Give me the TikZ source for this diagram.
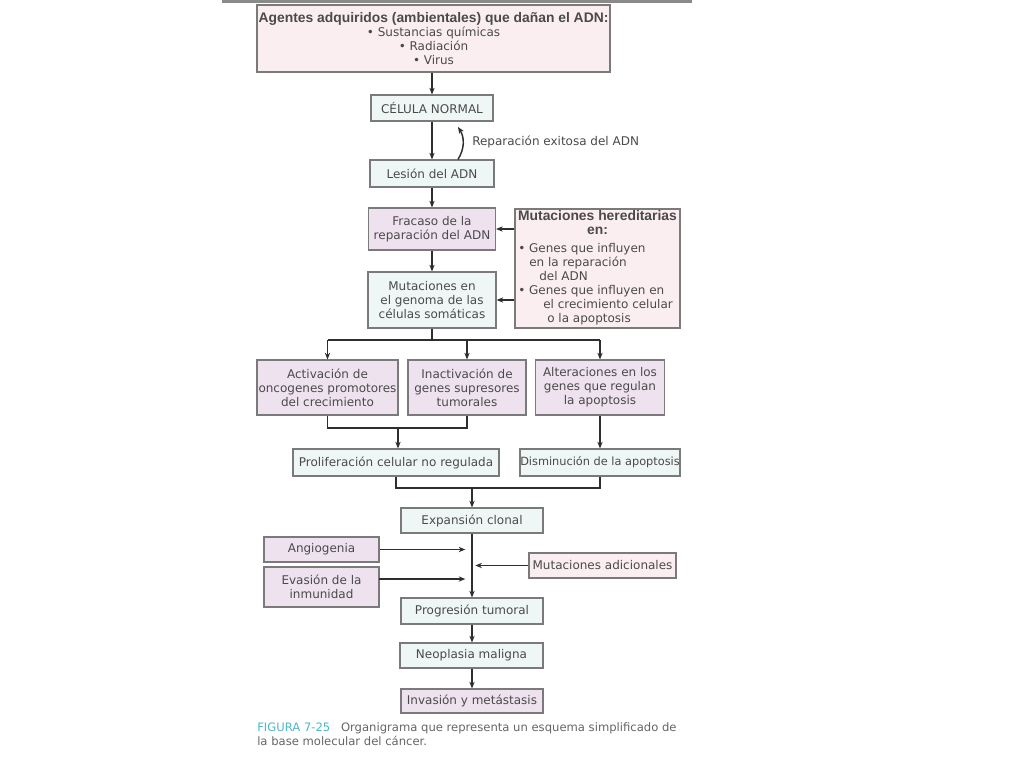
\documentclass[tikz,border=0pt]{standalone}
\usepackage{fontspec}
\setmainfont{DejaVu Sans}
\newfontfamily\hd{Liberation Sans}
\usetikzlibrary{arrows.meta}
\definecolor{pinkf}{HTML}{FBEEF0}
\definecolor{purpf}{HTML}{EFE2EF}
\definecolor{bluef}{HTML}{EFF7F6}
\definecolor{bordc}{HTML}{7A7A7A}
\definecolor{txtc}{HTML}{4A4A4A}
\definecolor{linec}{HTML}{2E2E2E}
\definecolor{capc}{HTML}{4DB6C8}
\definecolor{topc}{HTML}{8A8A8A}
\begin{document}
\begin{tikzpicture}[x=0.75pt,y=-0.75pt,
  bx/.style={draw=bordc,line width=0.9pt,inner sep=0pt,align=center,text=txtc,font=\fontsize{9}{10.5}\selectfont},
  sz/.style 2 args={minimum width={#1*0.75pt},minimum height={#2*0.75pt}},
  pk/.style={bx,fill=pinkf},
  pu/.style={bx,fill=purpf},
  bl/.style={bx,fill=bluef},
  lbl/.style={inner sep=0pt,text=txtc,font=\fontsize{9}{10.5}\selectfont},
  arr/.style={draw=linec,line width=1.1pt,-{Stealth[length=5pt,width=4pt]}},
  ln/.style={draw=linec,line width=1.1pt},
]
\useasboundingbox[fill=white] (0,0) rectangle (1024,768);
\fill[topc] (222,0) rectangle (692,3);

% boxes
\node[pk,sz={353}{67}] (agentes) at (433.5,38.5)
  {{\hd\bfseries\fontsize{10.4}{11}\selectfont Agentes adquiridos (ambientales) que dañan el ADN:}\\
   • Sustancias químicas\\ • Radiación\\ • Virus};
\node[bl,sz={122}{26}] (normal) at (432,108) {CÉLULA NORMAL};
\node[bl,sz={124}{27}] (lesion) at (432,173.5) {Lesión del ADN};
\node[pu,sz={127}{42}] (fracaso) at (432,229) {Fracaso de la\\reparación del ADN};
\node[pk,sz={165}{119}] (hered) at (597.5,268.5) {};
\node[lbl,font=\hd\bfseries\fontsize{10.4}{10.5}\selectfont,align=center,anchor=north] (heredt) at (597.5,210) {Mutaciones hereditarias\\en:};
\node[lbl,align=left,anchor=north west] (heredb) at (518,243)
  {• Genes que influyen\\
   \hspace*{8.25pt}en la reparación\\
   \hspace*{15.75pt}del ADN\\
   • Genes que influyen en\\
   \hspace*{18.75pt}el crecimiento celular\\
   \hspace*{21.75pt}o la apoptosis};
\node[bl,sz={128}{56}] (mutg) at (432,300) {Mutaciones en\\el genoma de las\\células somáticas};

\node[pu,sz={141}{55}] (act) at (327.5,387.5) {Activación de\\oncogenes promotores\\del crecimiento};
\node[pu,sz={118}{55}] (inac) at (467,387.5) {Inactivación de\\genes supresores\\tumorales};
\node[pu,sz={129}{55}] (alt) at (600,387.5) {Alteraciones en los\\genes que regulan\\la apoptosis};

\node[bl,sz={206}{27}] (prol) at (396,462.5) {Proliferación celular no regulada};
\node[bl,sz={160}{27},font=\fontsize{8.5}{10.5}\selectfont] (dism) at (600,462.5) {Disminución de la apoptosis};

\node[bl,sz={142}{25}] (exp) at (472,520.5) {Expansión clonal};
\node[pu,sz={115}{25}] (ang) at (321.5,549.5) {Angiogenia};
\node[pu,sz={115}{40}] (eva) at (321.5,587) {Evasión de la\\inmunidad};
\node[pk,sz={147}{25}] (madic) at (602.5,565.5) {Mutaciones adicionales};
\node[bl,sz={142}{26}] (prog) at (472,611) {Progresión tumoral};
\node[bl,sz={143}{25}] (neo) at (471.5,655.5) {Neoplasia maligna};
\node[pu,sz={142}{24}] (inv) at (472,701) {Invasión y metástasis};

% connectors
\draw[arr] (agentes.south -| normal) -- (normal);
\draw[arr] (normal) -- (lesion);
\draw[arr] ([xshift=19.5pt]lesion.north) .. controls +(5pt,8pt) and +(5pt,-8pt) .. ([xshift=19.5pt,yshift=-4pt]normal.south);
\node[lbl,anchor=west] (rep) at (472,142) {Reparación exitosa del ADN};
\draw[arr] (lesion) -- (fracaso);
\draw[arr] (fracaso) -- (mutg);
\draw[arr] (hered.west |- fracaso) -- (fracaso);
\draw[arr] (hered.west |- mutg) -- (mutg);

\coordinate (sp) at (432,340);
\draw[ln] (mutg.south) -- (sp);
\draw[ln] (sp -| act) -- (sp -| alt);
\draw[arr] (sp -| act) -- (act);
\draw[arr] (sp -| inac) -- (inac);
\draw[arr] (sp -| alt) -- (alt);

\coordinate (j1) at (398,428);
\draw[ln] (act.south) |- (j1) -| (inac.south);
\draw[arr] (j1) -- (j1 |- prol.north);
\draw[arr] (alt.south) -- (alt.south |- dism.north);

\coordinate (j2) at (472,488);
\draw[ln] (prol.south) |- (j2) -| (dism.south);
\draw[arr] (j2) -- (exp);

\draw[arr] (exp) -- (prog);
\draw[arr] (ang) -- ([xshift=-5pt]ang -| exp);
\coordinate (ev) at (379,579);
\draw[arr] (ev) -- ([xshift=-5pt]ev -| exp);
\draw[arr] (madic) -- ([xshift=2.5pt]madic -| exp);
\draw[arr] (prog) -- (prog |- neo.north);
\draw[arr] (neo.south -| inv) -- (inv);

% caption
\node[lbl,anchor=north west,align=left,text=txtc!85,font=\fontsize{8.7}{10.5}\selectfont] (cap) at (257,722)
  {{\color{capc}FIGURA 7-25}\hspace{8pt}Organigrama que representa un esquema simplificado de\\la base molecular del cáncer.};
\end{tikzpicture}
\end{document}
